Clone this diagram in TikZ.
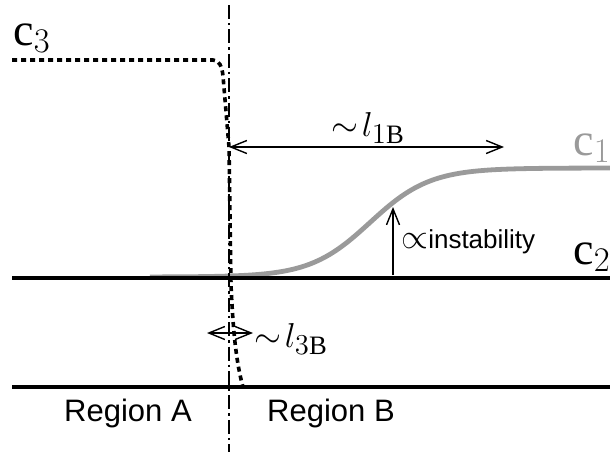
\documentclass[tikz,border=0pt]{standalone}
\usepackage{fontspec}
\setmainfont{Liberation Serif}
\setsansfont{Liberation Sans}
\usetikzlibrary{arrows.meta}
\definecolor{ProfileGray}{HTML}{9A9A9A}

\begin{document}
\begin{tikzpicture}[x=0.5pt, y=-0.5pt, >={Straight Barb[length=8pt,width=6.5pt]},
  level/.style={line width=1.8pt},
  gauge/.style={line width=0.7pt},
  conc/.style={inner sep=0pt, font=\fontsize{23}{26}\selectfont},
  lengthlbl/.style={inner sep=0pt, font=\fontsize{19}{22}\selectfont},
  region/.style={inner sep=0pt, font=\sffamily\fontsize{15.5}{18}\selectfont}]
  \useasboundingbox (0,0) rectangle (610,456);

  \coordinate (ifacetop) at (229,5);
  \coordinate (ifacebot) at (229,452);
  \coordinate (front) at (229,147);
  \coordinate (l1end) at (504,147);
  \coordinate (stepfoot) at (393,275);
  \coordinate (stepmid) at (393,207);
  \coordinate (l3left) at (207,333);
  \coordinate (l3right) at (253,333);
  \coordinate (c2left) at (12,278);
  \coordinate (c2right) at (610,278);
  \coordinate (baseleft) at (12,387);
  \coordinate (baseright) at (610,387);

  \draw[ProfileGray, line width=2.4pt] plot[domain=150:610, samples=90, smooth] (\x,{277-109/(1+exp(-(\x-370)/30))});
  \draw[level] (c2left) -- (c2right);
  \draw[level] (baseleft) -- (baseright);
  \draw[line width=0.75pt, dash pattern=on 7pt off 2pt on 1.2pt off 2pt] (ifacetop) -- (ifacebot);
  \draw[line width=1.8pt, dash pattern=on 2.5pt off 2pt]
    (12,60) -- (213,60) .. controls (219,60) and (222,66) .. (223,76)
    -- (229,147) -- (231,285) .. controls (233,330) and (236,362) .. (243,387);

  \draw[gauge, <->] (front) -- (l1end);
  \draw[gauge, ->] (stepfoot) -- (stepmid);
  \draw[gauge, <->] (l3left) -- (l3right);

  \node[conc] (c3) at (32,38) {c$_3$};
  \node[conc, text=ProfileGray] (c1) at (592,148) {c$_1$};
  \node[conc] (c2) at (592,257) {c$_2$};
  \node[lengthlbl] (l1b) at (368,128) {$\sim\! l_{1\mathrm{B}}$};
  \node[lengthlbl] (l3b) at (291,339) {$\sim\! l_{3\mathrm{B}}$};
  \node[inner sep=0pt, anchor=west, font=\sffamily\fontsize{13}{15}\selectfont] (instab) at (401,242) {\fontsize{16}{15}\selectfont$\propto$\fontsize{13}{15}\selectfont instability};
  \node[region] (rega) at (128,413) {Region A};
  \node[region] (regb) at (331,413) {Region B};
\end{tikzpicture}
\end{document}
